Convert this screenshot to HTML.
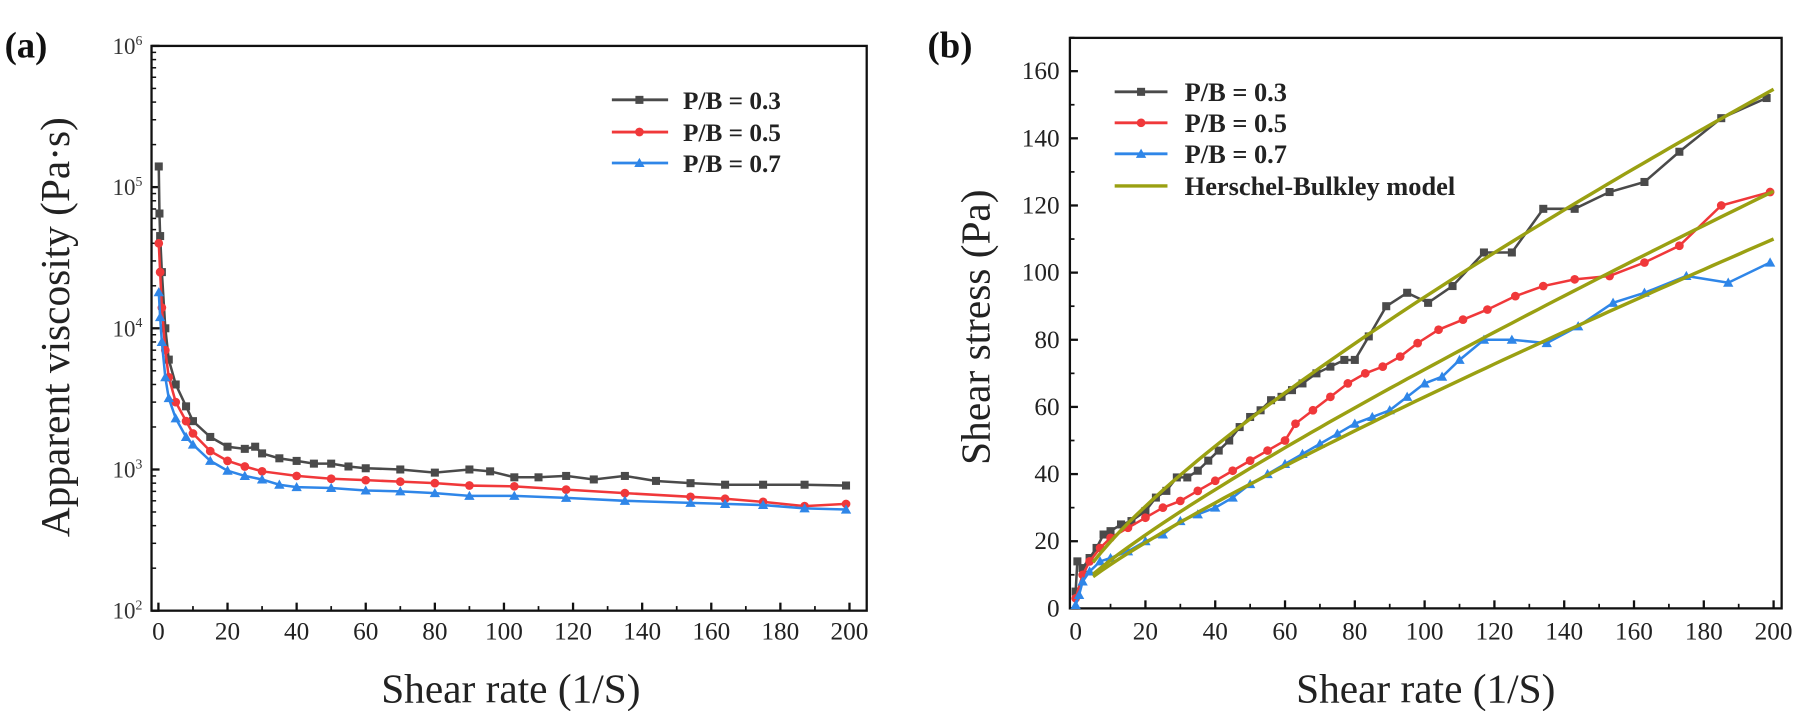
<!DOCTYPE html>
<html><head><meta charset="utf-8">
<style>
html,body{margin:0;padding:0;background:#fff;}
svg{display:block;}
text{font-family:"Liberation Serif",serif;}
</style></head>
<body>
<svg id="fig" width="1800" height="711" viewBox="0 0 1568 619.4" preserveAspectRatio="none" xmlns="http://www.w3.org/2000/svg"></svg>
<script>
// ---- Panel (a) data ----
const aX_black=[0.1,0.3,0.5,1,2,3,5,8,10,15,20,25,28,30,35,40,45,50,55,60,70,80,90,96,103,110,118,126,135,144,154,164,175,187,199];
const aY_black=[1.4e5,6.5e4,4.5e4,2.5e4,1e4,6e3,4e3,2.8e3,2.2e3,1.7e3,1.45e3,1.4e3,1.45e3,1.3e3,1.2e3,1.15e3,1.1e3,1.1e3,1.05e3,1.02e3,1.0e3,950,1000,970,880,880,900,850,900,830,800,780,780,780,770];
const aX_red=[0.1,0.5,1,2,3,5,8,10,15,20,25,30,40,50,60,70,80,90,103,118,135,154,164,175,187,199];
const aY_red=[4e4,2.5e4,1.4e4,7e3,4.5e3,3e3,2.2e3,1.8e3,1.35e3,1.15e3,1.05e3,970,900,860,840,820,800,770,760,720,680,640,620,590,550,570];
const aX_blue=[0.1,0.5,1,2,3,5,8,10,15,20,25,30,35,40,50,60,70,80,90,103,118,135,154,164,175,187,199];
const aY_blue=[1.8e4,1.2e4,8e3,4.5e3,3.2e3,2.3e3,1.7e3,1.5e3,1.15e3,980,900,850,780,750,740,710,700,680,650,650,630,600,580,570,560,530,520];
const aXTicks=[0,20,40,60,80,100,120,140,160,180,200];
const aYTicks=[2,3,4,5,6];
// ---- Panel (b) data ----
const bX_black=[0,0.5,2,4,6,8,10,13,16,20,23,26,29,32,35,38,41,44,47,50,53,56,59,62,65,69,73,77,80,84,89,95,101,108,117,125,134,143,153,163,173,185,198];
const bY_black=[5,14,12,15,18,22,23,25,26,29,33,35,39,39,41,44,47,50,54,57,59,62,63,65,67,70,72,74,74,81,90,94,91,96,106,106,119,119,124,127,136,146,152];
const bX_red=[0,2,4,7,10,15,20,25,30,35,40,45,50,55,60,63,68,73,78,83,88,93,98,104,111,118,126,134,143,153,163,173,185,199];
const bY_red=[3,10,14,18,21,24,27,30,32,35,38,41,44,47,50,55,59,63,67,70,72,75,79,83,86,89,93,96,98,99,103,108,120,124];
const bX_blue=[0,1,2,4,7,10,15,20,25,30,35,40,45,50,55,60,65,70,75,80,85,90,95,100,105,110,117,125,135,144,154,163,175,187,199];
const bY_blue=[1,4,8,11,14,15,17,20,22,26,28,30,33,37,40,43,46,49,52,55,57,59,63,67,69,74,80,80,79,84,91,94,99,97,103];
const hbT0=[5,5,5];
const hbK=[2.53,1.32,1.12];
const hbN=[0.77,0.85,0.857];
const bXTicks=[0,20,40,60,80,100,120,140,160,180,200];
const bYTicks=[0,20,40,60,80,100,120,140,160];

const NS="http://www.w3.org/2000/svg";
const svg=document.getElementById('fig');
function mk(tag,attrs,parent){const e=document.createElementNS(NS,tag);for(const k in attrs)e.setAttribute(k,attrs[k]);(parent||svg).appendChild(e);return e;}
const COL={black:'#4a4a4a',red:'#f0383a',blue:'#2f86e8',hb:'#9aa012'};

const aL=132,aR=755,aT=40,aB=532;
const ax=v=>138+v*3.01;
const ay=v=>aB-(Math.log10(v)-2)*(aB-aT)/4;
const bL=932,bR=1552,bT=33,bB=530;
const bx=v=>937+v*3.04;
const by=v=>bB-v*2.925;

function marker(type,x,y,c,g){
  let m;
  if(type==='sq') m=mk('rect',{x:x-3.5,y:y-3.5,width:7,height:7,fill:c},g);
  else if(type==='ci') m=mk('circle',{cx:x,cy:y,r:3.8,fill:c},g);
  else m=mk('polygon',{points:`${x},${y-4.5} ${x-4.5},${y+3.5} ${x+4.5},${y+3.5}`,fill:c},g);
  
  
}
function series(xs,ys,fx,fy,c,type,name){
  const g=mk('g',{});
  
  
  const pts=xs.map((x,i)=>fx(x).toFixed(1)+','+fy(ys[i]).toFixed(1)).join(' ');
  mk('polyline',{points:pts,fill:'none',stroke:c,'stroke-width':2.2},g);
  xs.forEach((x,i)=>marker(type,fx(x),fy(ys[i]),c,g));
}

// ---------- Panel a ----------
const fa=mk('rect',{x:aL,y:aT,width:aR-aL,height:aB-aT,fill:'none',stroke:'#111','stroke-width':2});

aXTicks.forEach(t=>{
  mk('line',{x1:ax(t),x2:ax(t),y1:aB,y2:aB-7,stroke:'#111','stroke-width':2});
  if(t<200) mk('line',{x1:ax(t+10),x2:ax(t+10),y1:aB,y2:aB-4,stroke:'#111','stroke-width':1.5});
  const tx=mk('text',{x:ax(t),y:557,'font-size':22,'text-anchor':'middle',fill:'#222'});tx.textContent=t;
  
});
aYTicks.forEach(p=>{
  const y=ay(Math.pow(10,p));
  mk('line',{x1:aL,x2:aL+7,y1:y,y2:y,stroke:'#111','stroke-width':2});
  if(p<6) for(let k=2;k<10;k++){const yy=ay(k*Math.pow(10,p));mk('line',{x1:aL,x2:aL+4,y1:yy,y2:yy,stroke:'#111','stroke-width':1.3});}
  const tx=mk('text',{x:aL-8,y:y+7,'font-size':20,'text-anchor':'end',fill:'#333'});
  tx.innerHTML='10<tspan dy="-8" font-size="12">'+p+'</tspan>';
  
});
series(aX_black,aY_black,ax,ay,COL.black,'sq','series-a-pb03');
series(aX_red,aY_red,ax,ay,COL.red,'ci','series-a-pb05');
series(aX_blue,aY_blue,ax,ay,COL.blue,'tr','series-a-pb07');
let t=mk('text',{x:445,y:612,'font-size':36,'text-anchor':'middle',fill:'#222'});t.textContent='Shear rate (1/S)';

t=mk('text',{x:0,y:0,'font-size':36,'text-anchor':'middle',fill:'#222',transform:'translate(60,285) rotate(-90)'});t.textContent='Apparent viscosity (Pa·s)';

t=mk('text',{x:4,y:50,'font-size':32,'font-weight':'bold',fill:'#111'});t.textContent='(a)';

[['P/B = 0.3',COL.black,'sq',87],['P/B = 0.5',COL.red,'ci',115],['P/B = 0.7',COL.blue,'tr',142]].forEach(([lab,c,ty,y],i)=>{
  const g=mk('g',{});
  mk('line',{x1:533,x2:582,y1:y,y2:y,stroke:c,'stroke-width':2.5},g);
  marker(ty,557,y,c,g);
  const tt=mk('text',{x:595,y:y+8,'font-size':22,'font-weight':'bold',fill:'#222'},g);tt.textContent=lab;
});

// ---------- Panel b ----------
const fb=mk('rect',{x:bL,y:bT,width:bR-bL,height:bB-bT,fill:'none',stroke:'#111','stroke-width':2});

bXTicks.forEach(v=>{
  mk('line',{x1:bx(v),x2:bx(v),y1:bB,y2:bB-7,stroke:'#111','stroke-width':2});
  if(v<200) mk('line',{x1:bx(v+10),x2:bx(v+10),y1:bB,y2:bB-4,stroke:'#111','stroke-width':1.5});
  const tx=mk('text',{x:bx(v),y:557,'font-size':22,'text-anchor':'middle',fill:'#222'});tx.textContent=v;
  
});
bYTicks.forEach(v=>{
  mk('line',{x1:bL,x2:bL+7,y1:by(v),y2:by(v),stroke:'#111','stroke-width':2});
  mk('line',{x1:bL,x2:bL+4,y1:by(v+10),y2:by(v+10),stroke:'#111','stroke-width':1.5});
  const tx=mk('text',{x:bL-9,y:by(v)+7,'font-size':22,'text-anchor':'end',fill:'#222'});tx.textContent=v;
  
});
series(bX_black,bY_black,bx,by,COL.black,'sq','series-b-pb03');
series(bX_red,bY_red,bx,by,COL.red,'ci','series-b-pb05');
series(bX_blue,bY_blue,bx,by,COL.blue,'tr','series-b-pb07');
hbT0.forEach((t0,i)=>{
  const pts=[];for(let x=5;x<=200;x+=2.5)pts.push(bx(x).toFixed(1)+','+by(t0+hbK[i]*Math.pow(x,hbN[i])).toFixed(1));
  const l=mk('polyline',{points:pts.join(' '),fill:'none',stroke:COL.hb,'stroke-width':3});
  
});
t=mk('text',{x:1242,y:612,'font-size':36,'text-anchor':'middle',fill:'#222'});t.textContent='Shear rate (1/S)';

t=mk('text',{x:0,y:0,'font-size':36,'text-anchor':'middle',fill:'#222',transform:'translate(862,285) rotate(-90)'});t.textContent='Shear stress (Pa)';

t=mk('text',{x:808,y:50,'font-size':32,'font-weight':'bold',fill:'#111'});t.textContent='(b)';

[['P/B = 0.3',COL.black,'sq',80],['P/B = 0.5',COL.red,'ci',107],['P/B = 0.7',COL.blue,'tr',134],['Herschel-Bulkley model',COL.hb,null,162]].forEach(([lab,c,ty,y])=>{
  const g=mk('g',{});
  mk('line',{x1:971,x2:1017,y1:y,y2:y,stroke:c,'stroke-width':ty?2.5:3},g);
  if(ty) marker(ty,994,y,c,g);
  const tt=mk('text',{x:1032,y:y+8,'font-size':23,'font-weight':'bold',fill:'#222'},g);tt.textContent=lab;
});
</script>
</body></html>
